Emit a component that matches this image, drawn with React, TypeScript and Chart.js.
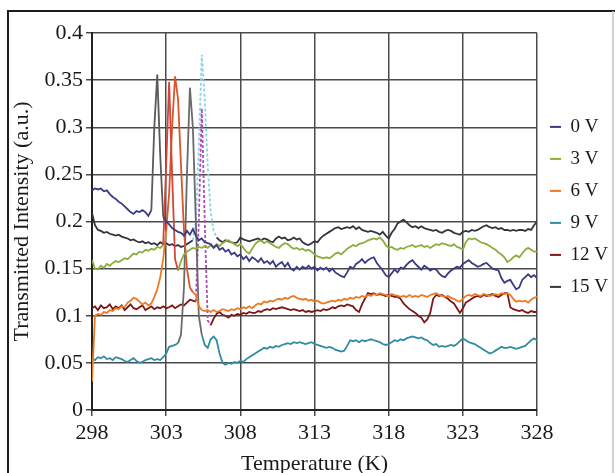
import React, { useEffect, useRef } from "react";
import { Chart, registerables } from "chart.js";

Chart.register(...registerables);

const temperatures = [
  298.0, 298.2, 298.4, 298.6, 298.8,
  299.0, 299.2, 299.4, 299.6, 299.8,
  300.0, 300.2, 300.4, 300.6, 300.8,
  301.0, 301.2, 301.4, 301.6, 301.8,
  302.0, 302.2, 302.4, 302.6, 302.8,
  303.0, 303.2, 303.4, 303.6, 303.8,
  304.0, 304.2, 304.4, 304.6, 304.8,
  305.0, 305.2, 305.4, 305.6, 305.8,
  306.0, 306.2, 306.4, 306.6, 306.8,
  307.0, 307.2, 307.4, 307.6, 307.8,
  308.0, 308.2, 308.4, 308.6, 308.8,
  309.0, 309.2, 309.4, 309.6, 309.8,
  310.0, 310.2, 310.4, 310.6, 310.8,
  311.0, 311.2, 311.4, 311.6, 311.8,
  312.0, 312.2, 312.4, 312.6, 312.8,
  313.0, 313.2, 313.4, 313.6, 313.8,
  314.0, 314.2, 314.4, 314.6, 314.8,
  315.0, 315.2, 315.4, 315.6, 315.8,
  316.0, 316.2, 316.4, 316.6, 316.8,
  317.0, 317.2, 317.4, 317.6, 317.8,
  318.0, 318.2, 318.4, 318.6, 318.8,
  319.0, 319.2, 319.4, 319.6, 319.8,
  320.0, 320.2, 320.4, 320.6, 320.8,
  321.0, 321.2, 321.4, 321.6, 321.8,
  322.0, 322.2, 322.4, 322.6, 322.8,
  323.0, 323.2, 323.4, 323.6, 323.8,
  324.0, 324.2, 324.4, 324.6, 324.8,
  325.0, 325.2, 325.4, 325.6, 325.8,
  326.0, 326.2, 326.4, 326.6, 326.8,
  327.0, 327.2, 327.4, 327.6, 327.8,
  328.0,
];

const seriesLabels = ["0 V", "3 V", "6 V", "9 V", "12 V", "15 V"];

const v0 = [
  0.233, 0.235, 0.234, 0.235, 0.232,
  0.233, 0.229, 0.226, 0.224, 0.221,
  0.219, 0.216, 0.213, 0.210, 0.208,
  0.211, 0.210, 0.212, 0.210, 0.206,
  0.212, 0.300, 0.356, 0.270, 0.205,
  0.200, 0.197, 0.193, 0.191, 0.189,
  0.188, 0.185, 0.190, 0.186, 0.192,
  0.185, 0.180, 0.182, 0.178, 0.177,
  0.176, 0.172, 0.175, 0.170, 0.172,
  0.168, 0.170, 0.165, 0.167, 0.163,
  0.165, 0.160, 0.163, 0.158, 0.162,
  0.160, 0.157, 0.161, 0.156, 0.158,
  0.155, 0.158, 0.152, 0.155, 0.157,
  0.152, 0.156, 0.150, 0.148, 0.152,
  0.149, 0.152, 0.150, 0.153, 0.150,
  0.152, 0.148, 0.151, 0.149, 0.151,
  0.147, 0.150, 0.146, 0.144, 0.142,
  0.141, 0.146, 0.152, 0.150, 0.155,
  0.157, 0.160, 0.156, 0.159, 0.161,
  0.162, 0.156, 0.152, 0.148, 0.143,
  0.141, 0.145, 0.149, 0.146, 0.151,
  0.150, 0.154, 0.157, 0.159, 0.155,
  0.152, 0.149, 0.153, 0.151, 0.148,
  0.150, 0.149, 0.145, 0.142, 0.141,
  0.145, 0.148, 0.150, 0.152, 0.151,
  0.155, 0.157, 0.159, 0.156, 0.154,
  0.152, 0.153, 0.155, 0.156, 0.153,
  0.150, 0.149, 0.148, 0.140, 0.135,
  0.137, 0.138, 0.133, 0.128, 0.130,
  0.138, 0.141, 0.144, 0.141, 0.143,
  0.140,
];

const v3 = [
  0.159, 0.150, 0.149, 0.153, 0.151,
  0.155, 0.153, 0.156, 0.158, 0.157,
  0.159, 0.161, 0.160, 0.163, 0.166,
  0.165, 0.168, 0.167, 0.170, 0.169,
  0.171, 0.170, 0.173, 0.172, 0.175,
  0.260, 0.348, 0.250, 0.160, 0.148,
  0.158, 0.165, 0.168, 0.170, 0.172,
  0.171, 0.173, 0.172, 0.174, 0.172,
  0.175, 0.173, 0.176, 0.174, 0.177,
  0.179, 0.180, 0.178, 0.176, 0.174,
  0.176, 0.172, 0.168, 0.166, 0.171,
  0.176, 0.179, 0.180, 0.177, 0.179,
  0.177, 0.175, 0.173, 0.172, 0.175,
  0.177, 0.176, 0.173, 0.171, 0.172,
  0.170, 0.171, 0.169, 0.170, 0.168,
  0.165, 0.163, 0.162, 0.161, 0.162,
  0.161, 0.163, 0.166, 0.167, 0.165,
  0.168, 0.171, 0.173, 0.175, 0.174,
  0.176, 0.177, 0.178, 0.180, 0.181,
  0.182, 0.181, 0.183, 0.180, 0.175,
  0.172, 0.173, 0.171, 0.170, 0.172,
  0.171, 0.173, 0.174, 0.175, 0.173,
  0.174, 0.175, 0.173, 0.174, 0.172,
  0.174, 0.176, 0.175, 0.177, 0.176,
  0.175, 0.174, 0.176, 0.173, 0.172,
  0.170, 0.178, 0.182, 0.181, 0.182,
  0.180, 0.178, 0.177, 0.176, 0.174,
  0.172, 0.170, 0.167, 0.165, 0.162,
  0.157, 0.159, 0.162, 0.164, 0.162,
  0.166, 0.170, 0.172, 0.170, 0.168,
  0.168,
];

const v6 = [
  0.030, 0.100, 0.102, 0.101, 0.104,
  0.103, 0.106, 0.105, 0.108, 0.107,
  0.110, 0.109, 0.114, 0.116, 0.119,
  0.118, 0.115, 0.112, 0.114, 0.111,
  0.113, 0.120, 0.128, 0.141, 0.160,
  0.190, 0.230, 0.300, 0.354, 0.330,
  0.260, 0.190, 0.150, 0.130, 0.125,
  0.122, 0.110, 0.106, 0.105, 0.106,
  0.104, 0.106, 0.104, 0.105, 0.107,
  0.106, 0.105, 0.107, 0.106, 0.108,
  0.107, 0.109, 0.108, 0.110, 0.108,
  0.111, 0.113, 0.112, 0.115, 0.114,
  0.116, 0.115, 0.117, 0.118, 0.117,
  0.119, 0.118, 0.120, 0.121, 0.119,
  0.118, 0.117, 0.118, 0.116, 0.117,
  0.115, 0.116, 0.114, 0.113, 0.114,
  0.115, 0.116, 0.115, 0.117, 0.116,
  0.118, 0.117, 0.119, 0.118, 0.120,
  0.119, 0.121, 0.120, 0.122, 0.121,
  0.123, 0.122, 0.124, 0.123, 0.122,
  0.121, 0.123, 0.122, 0.121, 0.120,
  0.121, 0.120, 0.122, 0.120, 0.121,
  0.120, 0.122, 0.121, 0.120, 0.122,
  0.123, 0.124, 0.122, 0.121, 0.120,
  0.121, 0.119, 0.118, 0.116, 0.115,
  0.118, 0.121, 0.122, 0.121, 0.123,
  0.122, 0.121, 0.123, 0.122, 0.121,
  0.122, 0.123, 0.122, 0.124, 0.123,
  0.124, 0.122, 0.118, 0.115, 0.116,
  0.115, 0.116, 0.114, 0.117, 0.119,
  0.120,
];

const v9 = [
  0.055, 0.053, 0.056, 0.055, 0.057,
  0.054, 0.055, 0.053, 0.056, 0.055,
  0.054, 0.052, 0.051, 0.053, 0.055,
  0.052, 0.050, 0.051, 0.053, 0.054,
  0.055, 0.053, 0.054, 0.053, 0.056,
  0.060, 0.067, 0.068, 0.069, 0.071,
  0.080, 0.130, 0.250, 0.342, 0.300,
  0.200, 0.100, 0.080, 0.069, 0.066,
  0.075, 0.078, 0.074, 0.060, 0.050,
  0.048, 0.050, 0.049, 0.051, 0.050,
  0.052, 0.051, 0.054, 0.056, 0.058,
  0.060, 0.062, 0.064, 0.066, 0.065,
  0.067, 0.066, 0.068, 0.067, 0.069,
  0.070, 0.071, 0.070, 0.072, 0.071,
  0.072, 0.071, 0.070, 0.071, 0.072,
  0.070, 0.069, 0.068, 0.067, 0.066,
  0.067, 0.066, 0.064, 0.063, 0.062,
  0.063, 0.068, 0.074, 0.073, 0.074,
  0.072, 0.074, 0.073, 0.074, 0.075,
  0.074, 0.073, 0.072, 0.070, 0.069,
  0.070, 0.072, 0.074, 0.073, 0.075,
  0.074, 0.076, 0.077, 0.078, 0.077,
  0.076, 0.077, 0.075, 0.074, 0.071,
  0.069, 0.070, 0.067, 0.068, 0.067,
  0.068, 0.069, 0.068, 0.070, 0.073,
  0.076, 0.074, 0.072, 0.071, 0.070,
  0.068, 0.066, 0.064, 0.062, 0.060,
  0.061, 0.063, 0.065, 0.067, 0.066,
  0.066, 0.067, 0.066, 0.065, 0.066,
  0.067, 0.068, 0.071, 0.074, 0.076,
  0.074,
];

const v12 = [
  0.108, 0.110, 0.106, 0.111, 0.108,
  0.109, 0.112, 0.107, 0.110, 0.108,
  0.111, 0.106, 0.109, 0.112, 0.108,
  0.107, 0.109, 0.111, 0.106, 0.108,
  0.110, 0.107, 0.109, 0.108, 0.110,
  0.108, 0.109, 0.111, 0.108, 0.110,
  0.112, 0.111, 0.114, 0.117, 0.116,
  0.115, 0.200, 0.320, 0.200, 0.095,
  0.090, 0.097, 0.102, 0.104, 0.101,
  0.100, 0.098, 0.101, 0.100, 0.102,
  0.101, 0.103, 0.102, 0.104, 0.103,
  0.103, 0.105, 0.104, 0.106, 0.107,
  0.106, 0.108, 0.107, 0.108, 0.109,
  0.108, 0.107, 0.106, 0.107, 0.106,
  0.105, 0.106, 0.104, 0.105, 0.104,
  0.105, 0.106, 0.105, 0.107, 0.106,
  0.107, 0.109, 0.108, 0.110, 0.111,
  0.110, 0.112, 0.111, 0.110, 0.106,
  0.104, 0.112, 0.118, 0.124, 0.123,
  0.124, 0.122, 0.123, 0.122, 0.121,
  0.122, 0.121, 0.120, 0.120, 0.118,
  0.113, 0.110, 0.107, 0.105, 0.103,
  0.100, 0.098, 0.093, 0.096, 0.103,
  0.118, 0.122, 0.121, 0.122, 0.120,
  0.118, 0.115, 0.113, 0.108, 0.103,
  0.108, 0.114, 0.116, 0.118, 0.120,
  0.121, 0.120, 0.122, 0.121, 0.122,
  0.123, 0.121, 0.120, 0.122, 0.124,
  0.124, 0.109, 0.107, 0.106, 0.105,
  0.106, 0.104, 0.103, 0.105, 0.104,
  0.104,
];

const v15 = [
  0.209, 0.196, 0.191, 0.190, 0.188,
  0.189, 0.187, 0.186, 0.185, 0.186,
  0.184, 0.183, 0.182, 0.180, 0.181,
  0.179, 0.178, 0.179, 0.177, 0.178,
  0.176, 0.177, 0.175, 0.178, 0.176,
  0.177, 0.175, 0.176, 0.174, 0.175,
  0.173, 0.174, 0.176, 0.178, 0.180,
  0.200, 0.280, 0.377, 0.330, 0.260,
  0.210, 0.190, 0.183, 0.180, 0.178,
  0.180, 0.179, 0.178, 0.177, 0.178,
  0.183, 0.181, 0.180, 0.179, 0.180,
  0.181, 0.182, 0.180, 0.182, 0.181,
  0.179, 0.178, 0.182, 0.184, 0.182,
  0.183, 0.180, 0.181, 0.183, 0.181,
  0.182, 0.178, 0.176, 0.175, 0.177,
  0.179, 0.178, 0.182, 0.185, 0.187,
  0.189, 0.191, 0.193, 0.194, 0.192,
  0.193, 0.194, 0.193, 0.195, 0.192,
  0.194, 0.191, 0.190, 0.189, 0.190,
  0.189, 0.188, 0.186, 0.189, 0.185,
  0.182, 0.188, 0.192, 0.198, 0.200,
  0.202, 0.199, 0.196, 0.194, 0.195,
  0.193, 0.195, 0.193, 0.192, 0.191,
  0.190, 0.191, 0.189, 0.188, 0.190,
  0.191, 0.190, 0.188, 0.187, 0.186,
  0.189, 0.190, 0.189, 0.191, 0.190,
  0.191, 0.193, 0.195, 0.196, 0.194,
  0.193, 0.194, 0.192, 0.193, 0.191,
  0.191, 0.190, 0.191, 0.190, 0.191,
  0.191, 0.190, 0.192, 0.191, 0.196,
  0.200,
];

const seriesValues = [v0, v3, v6, v9, v12, v15];

const xTickValues = [298, 303, 308, 313, 318, 323, 328];

// styling
const lineColors = ["#3b3a85", "#8aae3c", "#ec7a24", "#2f8ca3", "#7e1616", "#34343f"];
const peakColors = ["#5a5a5a", "#d0463a", "#d9552a", "#6a6a6a", "#b04ab8", "#8fd0e8"];
const peakStart = [302.0, 302.8, 303.0, 303.8, 305.0, 304.8];
const peakEnd = [302.8, 303.8, 304.8, 305.4, 306.0, 306.4];
const peakDashed = [false, false, false, false, true, true];

const SERIF = "'Liberation Serif', 'Times New Roman', 'DejaVu Serif', serif";

const framePlugin = {
  id: "frame",
  beforeDraw(chart: any) {
    const c = chart.ctx;
    c.save();
    c.fillStyle = "#ffffff";
    c.fillRect(0, 0, chart.width, chart.height);
    c.restore();
  },
  afterDraw(chart: any) {
    const c = chart.ctx;
    c.save();
    c.strokeStyle = "#1c1c1c";
    c.lineWidth = 2;
    c.beginPath();
    c.moveTo(8, chart.height);
    c.lineTo(8, 11);
    c.lineTo(chart.width, 11);
    c.stroke();
    c.strokeStyle = "#c4c4c4";
    c.lineWidth = 1.5;
    c.beginPath();
    c.moveTo(613, 11);
    c.lineTo(613, chart.height);
    c.stroke();
    c.restore();
  },
};

export default function App() {
  const ref = useRef<HTMLCanvasElement | null>(null);

  useEffect(() => {
    if (!ref.current) return;
    const datasets = seriesValues.map((vals, si) => ({
      label: seriesLabels[si],
      data: vals.map((v, i) => ({ x: temperatures[i], y: v })),
      borderColor: lineColors[si],
      backgroundColor: lineColors[si],
      borderWidth: 1.8,
      pointRadius: 0,
      tension: 0,
      segment: {
        borderColor: (ctx: any) => {
          const a = ctx.p0.parsed.x;
          const b = ctx.p1.parsed.x;
          return a >= peakStart[si] - 1e-6 && b <= peakEnd[si] + 1e-6 ? peakColors[si] : undefined;
        },
        borderDash: (ctx: any) => {
          const a = ctx.p0.parsed.x;
          const b = ctx.p1.parsed.x;
          return peakDashed[si] && a >= peakStart[si] - 1e-6 && b <= peakEnd[si] + 1e-6 ? [3, 2] : undefined;
        },
      },
    }));

    const chart = new Chart(ref.current, {
      type: "line",
      data: { datasets },
      plugins: [framePlugin],
      options: {
        responsive: false,
        animation: false,
        layout: { padding: { left: 8, top: 33, right: -3, bottom: -4 } },
        plugins: {
          tooltip: { enabled: false },
          legend: {
            position: "right",
            align: "start",
            fullSize: false,
            title: { display: true, text: " ", font: { size: 12 }, padding: { top: 57, bottom: 0 } },
            labels: {
              font: { family: SERIF, size: 19 },
              color: "#1a1a1a",
              boxWidth: 11,
              boxHeight: 2,
              padding: 13,
              generateLabels: (chart: any) =>
                Chart.defaults.plugins.legend.labels
                  .generateLabels(chart)
                  .map((l: any) => ({ ...l, lineWidth: 0 })),
            },
          },
        },
        scales: {
          x: {
            type: "linear",
            min: 298,
            max: 328,
            afterBuildTicks: (scale: any) => {
              scale.ticks = xTickValues.map((v) => ({ value: v }));
            },
            afterFit: (scale: any) => {
              scale.height = 67;
            },
            ticks: {
              font: { family: SERIF, size: 22 },
              color: "#1a1a1a",
              padding: 4,
              maxRotation: 0,
              callback: (v: any) => String(v),
            },
            grid: { color: "#4a4a4a", lineWidth: 1.5, tickLength: 6 },
            border: { color: "#222222", width: 2 },
            title: {
              display: true,
              text: "Temperature (K)",
              font: { family: SERIF, size: 22 },
              color: "#1a1a1a",
              padding: { top: 0, bottom: 0 },
            },
          },
          y: {
            min: 0,
            max: 0.4,
            afterFit: (scale: any) => {
              scale.width = 84;
            },
            ticks: {
              stepSize: 0.05,
              font: { family: SERIF, size: 22 },
              color: "#1a1a1a",
              padding: 3,
              callback: (v: any) => String(Number(Number(v).toFixed(2))),
            },
            grid: { color: "#4a4a4a", lineWidth: 1.5, tickLength: 6 },
            border: { color: "#222222", width: 2 },
            title: {
              display: true,
              text: "Transmitted Intensity (a.u.)",
              font: { family: SERIF, size: 22 },
              color: "#1a1a1a",
              padding: { top: 1, bottom: 0 },
            },
          },
        },
      },
    });
    return () => chart.destroy();
  }, []);

  return (
    <div style={{ position: "absolute", left: 0, top: 0, width: 615, height: 473 }}>
      <canvas ref={ref} width={615} height={473} />
    </div>
  );
}
